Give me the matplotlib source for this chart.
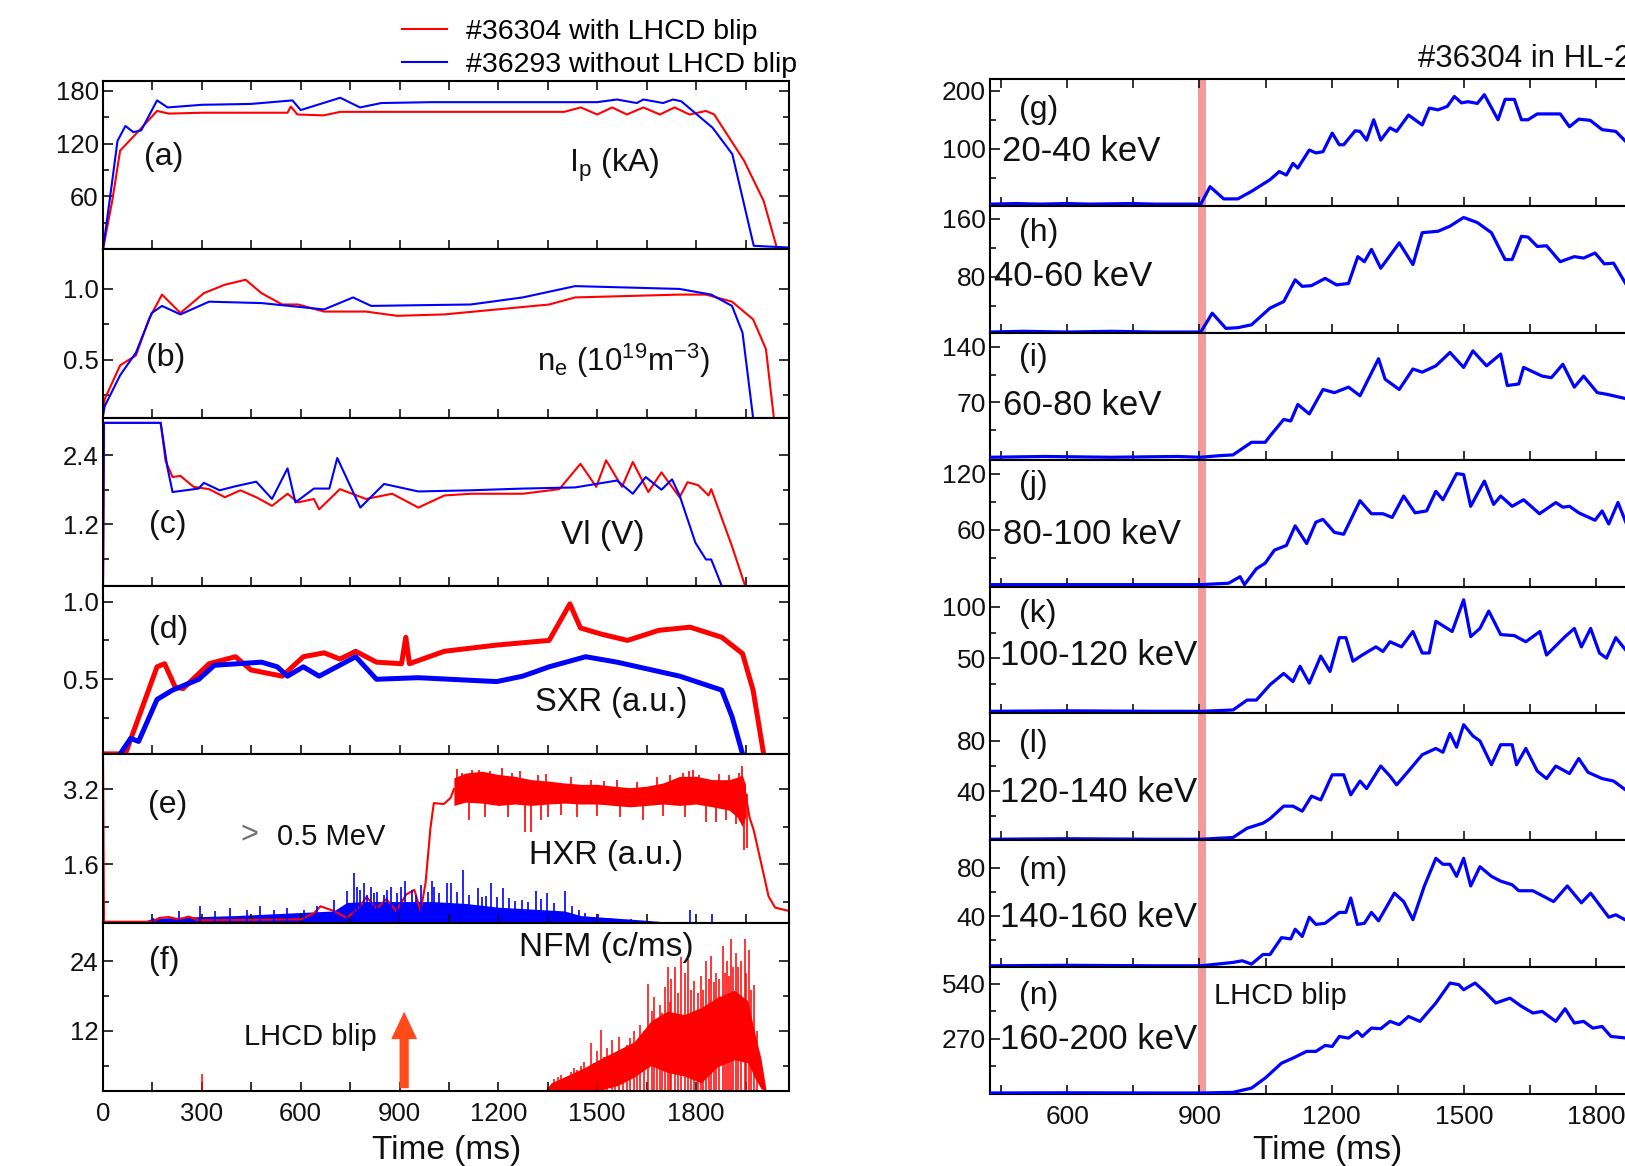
import matplotlib
matplotlib.use("Agg")
import matplotlib.pyplot as plt
from matplotlib.ticker import FixedLocator

plt.rcParams['font.family'] = ['Liberation Sans', 'DejaVu Sans']
plt.rcParams['mathtext.fontset'] = 'custom'
plt.rcParams['mathtext.rm'] = 'Liberation Sans'

RED = '#ff0000'
BLUE = '#0000ff'
INK = '#111111'
W, H = 1625, 1166

# ---------------- left column: #36304 (red) vs #36293 (blue) ----------------
ip_red_t = [0, 28, 52, 100, 164, 200, 300, 400, 560, 570, 590, 670, 720, 900, 1200, 1400,
            1450, 1500, 1545, 1590, 1640, 1690, 1735, 1780, 1830, 1855, 1945, 2005, 2045, 2085]
ip_red_v = [0, 55, 112, 131, 157, 154, 155, 155, 155, 162, 153, 152, 156, 156, 156, 156,
            161, 153, 161, 153, 161, 153, 161, 153, 157, 153, 101, 55, 2, 1]
ip_blue_t = [0, 20, 44, 68, 92, 116, 164, 196, 300, 450, 575, 600, 720, 780, 845, 1000, 1500,
             1560, 1620, 1640, 1700, 1730, 1755, 1850, 1910, 1975, 2085]
ip_blue_v = [0, 55, 123, 140, 133, 135, 169, 161, 164, 165, 169, 158, 172, 161, 166, 167, 167,
             170, 166, 170, 166, 170, 168, 138, 108, 4, 2]

ne_red_t = [0, 5, 52, 100, 140, 179, 235, 306, 370, 433, 481, 544, 592, 671, 798, 893, 1036,
            1195, 1354, 1433, 1592, 1750, 1830, 1909, 1973, 2012, 2036]
ne_red_v = [0.12, 0.22, 0.46, 0.53, 0.79, 0.96, 0.83, 0.97, 1.03, 1.065, 0.97, 0.89, 0.89, 0.84,
            0.84, 0.81, 0.82, 0.855, 0.89, 0.94, 0.95, 0.96, 0.96, 0.91, 0.785, 0.575, 0.09]
ne_blue_t = [0, 5, 52, 100, 148, 179, 235, 322, 481, 671, 759, 814, 957, 1116, 1274, 1433,
             1592, 1750, 1846, 1909, 1941, 1973]
ne_blue_v = [0.1, 0.17, 0.39, 0.55, 0.83, 0.88, 0.82, 0.91, 0.9, 0.855, 0.94, 0.88, 0.885,
             0.89, 0.94, 1.02, 1.01, 1.0, 0.96, 0.88, 0.69, 0.09]

vl_red_t = [0, 3, 175, 190, 211, 235, 275, 322, 370, 417, 465, 513, 560, 592, 640, 656, 719,
            798, 878, 957, 1036, 1116, 1274, 1385, 1449, 1497, 1527, 1575, 1608, 1655, 1695,
            1750, 1774, 1806, 1838, 1846, 1909, 1949]
vl_red_v = [0.13, 2.96, 2.96, 2.3, 2.02, 2.04, 1.85, 1.81, 1.67, 1.79, 1.67, 1.52, 1.73, 1.58,
            1.64, 1.46, 1.81, 1.64, 1.73, 1.49, 1.7, 1.73, 1.73, 1.81, 2.25, 1.85, 2.31, 1.85,
            2.28, 1.76, 2.1, 1.67, 1.93, 1.88, 1.7, 1.81, 0.82, 0.13]
vl_blue_t = [0, 3, 175, 195, 211, 290, 306, 354, 402, 465, 513, 560, 584, 640, 687, 711, 781,
             853, 957, 1116, 1274, 1433, 1497, 1560, 1608, 1647, 1695, 1727, 1750, 1798, 1830,
             1846, 1878]
vl_blue_v = [0.13, 2.96, 2.96, 2.2, 1.76, 1.82, 1.92, 1.79, 1.86, 1.94, 1.64, 2.17, 1.58, 1.82,
             1.82, 2.35, 1.49, 1.9, 1.77, 1.79, 1.82, 1.84, 1.9, 1.96, 1.73, 2.02, 1.8, 1.98,
             1.7, 0.88, 0.59, 0.59, 0.13]

sxr_red_t = [5, 68, 164, 187, 219, 243, 322, 402, 449, 544, 608, 671, 719, 767, 830, 906, 919,
             930, 1036, 1195, 1354, 1417, 1449, 1513, 1592, 1687, 1782, 1878, 1941, 1973, 2005]
sxr_red_v = [0.02, 0.02, 0.58, 0.6, 0.45, 0.44, 0.6, 0.645, 0.56, 0.52, 0.645, 0.67, 0.63,
             0.68, 0.61, 0.6, 0.77, 0.6, 0.68, 0.72, 0.75, 0.985, 0.83, 0.79, 0.75, 0.815,
             0.835, 0.77, 0.665, 0.43, 0.02]
sxr_blue_t = [52, 84, 108, 164, 211, 291, 338, 481, 529, 560, 608, 656, 767, 830, 957, 1195,
              1274, 1354, 1465, 1560, 1750, 1878, 1909, 1941]
sxr_blue_v = [0.02, 0.12, 0.1, 0.37, 0.43, 0.5, 0.59, 0.61, 0.58, 0.52, 0.58, 0.52, 0.645, 0.5,
              0.51, 0.485, 0.52, 0.58, 0.645, 0.61, 0.52, 0.43, 0.26, 0.02]

# HXR (> 0.5 MeV): red trace before/after the plateau, plateau band and its spikes
hxr_red_t = [0, 3, 150, 170, 200, 230, 260, 290, 600, 640, 660, 700, 740, 780, 800, 830, 860,
             890, 920, 945, 964, 979, 994, 1004, 1034, 1055, 1065]
hxr_red_v = [3.9, 0.37, 0.37, 0.45, 0.47, 0.42, 0.48, 0.4, 0.42, 0.55, 0.7, 0.6, 0.45, 0.7,
             0.9, 0.65, 0.85, 0.6, 0.95, 1.05, 0.6, 1.2, 2.38, 2.9, 2.88, 3.01, 3.2]
hxr_tail_t = [1950, 1962, 1975, 2000, 2020, 2040, 2082]
hxr_tail_v = [3.1, 2.6, 2.32, 1.54, 0.91, 0.67, 0.6]
hxr_band_t = [1065, 1100, 1150, 1200, 1250, 1300, 1350, 1400, 1450, 1500, 1550, 1600, 1650,
              1700, 1750, 1800, 1850, 1900, 1925, 1940, 1950]
hxr_band_hi = [3.44, 3.54, 3.58, 3.51, 3.47, 3.40, 3.37, 3.33, 3.30, 3.30, 3.26, 3.23, 3.26,
               3.33, 3.47, 3.47, 3.40, 3.40, 3.45, 3.5, 3.3]
hxr_band_lo = [2.85, 2.92, 2.9, 2.85, 2.88, 2.85, 2.88, 2.9, 2.88, 2.88, 2.85, 2.82, 2.85,
               2.88, 2.85, 2.88, 2.82, 2.75, 2.6, 2.4, 2.6]
hxr_spike_t = [1075, 1090, 1110, 1120, 1140, 1160, 1175, 1210, 1230, 1240, 1265, 1280, 1300,
               1320, 1330, 1345, 1350, 1390, 1420, 1440, 1480, 1500, 1520, 1560, 1570, 1620,
               1640, 1680, 1700, 1720, 1760, 1765, 1780, 1790, 1810, 1830, 1860, 1870, 1890,
               1900, 1920, 1930, 1940, 1945, 1955]
hxr_spike_v = [3.62, 3.55, 2.53, 3.61, 3.6, 2.6, 3.58, 3.65, 2.6, 3.55, 3.58, 2.28, 2.28,
               3.5, 2.55, 3.52, 2.6, 2.65, 3.45, 2.6, 3.4, 2.62, 3.38, 3.4, 2.6, 3.35,
               2.53, 3.45, 2.62, 3.5, 3.55, 2.6, 3.58, 3.6, 3.5, 2.49, 2.5, 3.52, 2.55,
               3.5, 2.45, 3.55, 3.7, 1.9, 1.95]
hxr_blue_band_t = [120, 150, 250, 400, 550, 700, 740, 800, 900, 1000, 1100, 1200, 1300, 1400,
                   1450, 1550, 1650, 1700]
hxr_blue_band_v = [0.37, 0.44, 0.47, 0.5, 0.55, 0.6, 0.78, 0.8, 0.8, 0.8, 0.76, 0.68, 0.64,
                   0.6, 0.5, 0.45, 0.4, 0.37]
hxr_blue_spike_t = [153, 230, 295, 340, 386, 437, 477, 520, 558, 610, 650, 700, 741, 761, 771,
                    781, 791, 800, 812, 822, 832, 852, 862, 873, 893, 905, 918, 938, 950, 964,
                    985, 998, 1004, 1020, 1043, 1055, 1075, 1093, 1110, 1138, 1150, 1163, 1177,
                    1195, 1213, 1233, 1250, 1273, 1290, 1313, 1330, 1348, 1370, 1403, 1423,
                    1445, 1463, 1503, 1543, 1603, 1783, 1848]
hxr_blue_spike_v = [0.46, 0.6, 0.7, 0.6, 0.67, 0.63, 0.7, 0.62, 0.67, 0.62, 0.7, 0.84, 1.02,
                    1.4, 1.1, 1.05, 1.19, 0.95, 1.12, 0.98, 1.0, 0.95, 1.05, 1.12, 0.98, 1.1,
                    1.23, 1.05, 0.95, 1.16, 1.0, 1.23, 1.1, 0.98, 1.19, 1.19, 1.0, 1.47, 0.95,
                    1.09, 0.9, 0.91, 1.19, 0.9, 1.09, 0.88, 0.82, 0.84, 0.8, 1.02, 0.85, 0.98,
                    0.78, 1.02, 0.7, 0.62, 0.56, 0.53, 0.46, 0.42, 0.63, 0.53]

# neutron flux monitor
nfm_core_t = [1340, 1360, 1410, 1460, 1511, 1560, 1612, 1663, 1713, 1764, 1815, 1865, 1916,
              1957, 1977, 1997, 2012]
nfm_core_lo = [1.6, 1.6, 1.6, 1.6, 1.8, 2.5, 4.0, 6.0, 4.8, 4.2, 3.0, 5.8, 7.0, 6.5, 4.0, 2.0, 1.6]
nfm_core_hi = [1.6, 3.0, 4.3, 5.6, 7.2, 8.6, 10.1, 13.7, 15.4, 14.8, 16.0, 17.8, 19.0, 17.2,
               11.9, 7.2, 1.9]
nfm_spike_t = [300, 1369, 1380, 1390, 1405, 1420, 1430, 1440, 1450, 1460, 1470, 1480, 1490,
               1500, 1511, 1520, 1530, 1545, 1555, 1565, 1578, 1590, 1600, 1612, 1622, 1630,
               1642, 1653, 1665, 1673, 1682, 1690, 1698, 1705, 1714, 1720, 1725, 1735, 1745,
               1754, 1765, 1775, 1785, 1795, 1805, 1815, 1822, 1830, 1838, 1845, 1853, 1860,
               1870, 1881, 1888, 1893, 1900, 1906, 1913, 1920, 1927, 1935, 1947, 1953, 1960,
               1968, 1975, 1985]
nfm_spike_v = [4.6, 3.6, 4.0, 4.4, 3.8, 4.8, 5.6, 5.2, 6.0, 6.6, 5.4, 9.9, 6.5, 8.5, 12.2, 7.5,
               9.0, 10.4, 8.0, 11.0, 8.8, 9.5, 10.8, 11.9, 10.0, 13.0, 12.0, 20.1, 15.5, 17.8,
               14.0, 16.5, 15.0, 19.5, 23.1, 17.0, 21.0, 23.1, 18.5, 24.8, 22.0, 24.5, 19.0,
               20.7, 18.5, 21.5, 19.0, 24.0, 21.0, 25.0, 20.5, 22.0, 21.0, 26.6, 22.0, 24.0,
               21.5, 27.8, 23.0, 25.5, 23.0, 24.0, 27.8, 22.0, 26.0, 19.0, 20.0, 12.0]

# ---------------- right column: HXR energy channels of #36304 ----------------
g_t = [425, 485, 537, 600, 650, 746, 800, 851, 903, 924, 955, 987, 1018, 1060, 1081, 1097, 1112,
       1123, 1149, 1164, 1180, 1201, 1217, 1227, 1253, 1264, 1279, 1295, 1311, 1332, 1347, 1374,
       1405, 1421, 1441, 1462, 1478, 1494, 1509, 1530, 1546, 1577, 1593, 1614, 1630, 1645, 1666,
       1718, 1739, 1760, 1786, 1813, 1844, 1870]
g_v = [5, 6, 5, 6, 5, 6, 5, 5, 5, 35, 14, 14, 27, 47, 61, 55, 75, 67, 98, 93, 95, 127, 107, 107,
       131, 130, 115, 150, 115, 136, 130, 158, 141, 170, 167, 173, 190, 179, 181, 178, 193, 150,
       185, 185, 150, 150, 160, 160, 138, 151, 149, 133, 130, 110]
h_t = [425, 500, 600, 700, 800, 903, 929, 960, 987, 1018, 1060, 1091, 1117, 1133, 1154, 1185,
       1211, 1238, 1259, 1274, 1290, 1311, 1353, 1384, 1405, 1441, 1468, 1499, 1530, 1562, 1593,
       1609, 1630, 1645, 1666, 1687, 1718, 1750, 1771, 1797, 1818, 1839, 1870]
h_v = [4, 5, 4, 5, 4, 4, 30, 9, 10, 14, 37, 46, 76, 67, 68, 78, 69, 71, 108, 101, 118, 92, 127,
       97, 141, 143, 150, 162, 155, 141, 104, 104, 136, 135, 122, 123, 101, 108, 106, 113, 98,
       99, 67]
i_t = [425, 550, 700, 850, 903, 945, 976, 1018, 1049, 1060, 1091, 1107, 1123, 1149, 1180, 1206,
       1238, 1264, 1306, 1321, 1353, 1384, 1405, 1436, 1468, 1499, 1520, 1551, 1583, 1598, 1624,
       1635, 1677, 1698, 1724, 1750, 1771, 1802, 1823, 1870]
i_v = [0, 1, 0, 1, 0, 2, 3, 19, 19, 27, 48, 46, 67, 55, 86, 82, 89, 78, 125, 99, 86, 112, 108,
       116, 133, 114, 135, 116, 131, 91, 93, 114, 103, 101, 118, 89, 103, 82, 80, 74]
j_t = [425, 600, 800, 903, 966, 992, 1002, 1029, 1049, 1070, 1097, 1117, 1143, 1164, 1180, 1206,
       1227, 1264, 1290, 1316, 1337, 1363, 1389, 1415, 1436, 1452, 1483, 1499, 1515, 1546, 1567,
       1583, 1609, 1635, 1671, 1708, 1724, 1739, 1760, 1797, 1813, 1828, 1849, 1870]
j_v = [1, 1, 1, 1, 2.5, 9.5, 1, 18, 24, 38, 43, 64, 45, 68, 71, 57, 55, 91, 77, 77, 73, 96, 78,
       80, 101, 92, 120, 119, 85, 112, 87, 96, 85, 92, 77, 89, 84, 85, 78, 70, 80, 66, 89, 64]
k_t = [425, 600, 800, 903, 976, 1008, 1029, 1060, 1091, 1112, 1128, 1149, 1175, 1196, 1217, 1232,
       1248, 1269, 1300, 1316, 1332, 1358, 1384, 1405, 1421, 1436, 1473, 1499, 1515, 1536, 1556,
       1583, 1614, 1640, 1672, 1687, 1729, 1750, 1766, 1787, 1807, 1823, 1844, 1870]
k_v = [-2, -1.5, -2, -2, -0.7, 9, 9, 24, 35, 27, 42, 25.5, 52, 37, 70, 70, 47, 53, 61, 56.5, 66,
       61, 76, 55, 55, 86, 76, 107, 71, 79, 96, 73, 72, 66, 76, 53, 71, 79, 61, 79, 55, 50, 70, 56]
l_t = [425, 600, 800, 903, 976, 1008, 1044, 1060, 1091, 1112, 1133, 1154, 1175, 1201, 1227, 1243,
       1264, 1279, 1311, 1332, 1347, 1374, 1405, 1436, 1452, 1468, 1483, 1499, 1520, 1536, 1562,
       1583, 1609, 1619, 1640, 1666, 1687, 1708, 1739, 1760, 1781, 1813, 1839, 1870]
l_v = [1.6, 2, 1.6, 1.6, 3, 10.4, 14.4, 18, 28, 28, 24, 36, 33, 53, 53, 37, 48, 42, 60, 52, 45,
       56, 69, 74, 71, 86, 75, 93, 84, 80, 61, 77, 77, 61, 74, 56, 50, 60, 54, 66, 55, 50, 48, 40]
m_t = [425, 600, 800, 903, 976, 997, 1018, 1044, 1060, 1086, 1107, 1117, 1133, 1149, 1164, 1185,
       1217, 1232, 1243, 1258, 1274, 1290, 1306, 1342, 1363, 1384, 1410, 1436, 1452, 1468, 1483,
       1499, 1515, 1536, 1562, 1583, 1609, 1624, 1656, 1703, 1734, 1766, 1787, 1828, 1844, 1870]
m_v = [-1.4, -1, -1.4, -1.4, 1.4, 2.8, 0, 8, 8, 22, 21, 29, 23, 39, 33, 34, 43, 43, 55, 33, 34,
       43, 36, 59, 52, 37, 65, 88, 83, 83, 73, 88, 65, 81, 73, 69, 66, 61, 61, 52, 65, 51, 59,
       39, 41, 36]
n_t = [425, 600, 800, 903, 976, 1018, 1049, 1086, 1112, 1143, 1164, 1185, 1201, 1217, 1238, 1258,
       1269, 1290, 1311, 1332, 1353, 1374, 1400, 1436, 1468, 1488, 1499, 1525, 1546, 1572, 1604,
       1630, 1656, 1677, 1708, 1729, 1750, 1771, 1792, 1813, 1833, 1870]
n_v = [5, 6, 5, 5, 8, 29, 78, 151, 176, 209, 209, 238, 233, 282, 274, 307, 282, 323, 320, 356,
       340, 380, 356, 446, 544, 536, 511, 544, 503, 446, 470, 430, 397, 405, 356, 418, 348, 356,
       323, 331, 282, 274]

channel_labels = ['20-40 keV', '40-60 keV', '60-80 keV', '80-100 keV', '100-120 keV',
                  '120-140 keV', '140-160 keV', '160-200 keV']
channel_ylims = [(2, 220), (3, 178), (-3, 158), (-1, 135), (-4, 120), (0.8, 102), (-2.5, 103),
                 (0, 622)]
channel_ticks = [[100, 200], [80, 160], [70, 140], [60, 120], [50, 100], [40, 80], [40, 80],
                 [270, 540]]
blip_start, blip_end = 897, 915


def box(left, top, right, bottom):
    # pixel box -> figure fraction
    return [left / W, 1 - bottom / H, (right - left) / W, (bottom - top) / H]


def style(ax, xmaj, xmin, ymaj, ymin, top=False, size=18.5):
    ax.xaxis.set_major_locator(FixedLocator(xmaj))
    ax.xaxis.set_minor_locator(FixedLocator(xmin))
    ax.yaxis.set_major_locator(FixedLocator(ymaj))
    ax.yaxis.set_minor_locator(FixedLocator(ymin))
    ax.tick_params(which='both', direction='in', top=top, right=True, width=1.2,
                   labelsize=size, colors=INK)
    ax.tick_params(axis='y', which='major', length=7, pad=3)
    ax.tick_params(axis='y', which='minor', length=4.5)
    ax.tick_params(axis='x', which='both', length=6.5, pad=8)
    for sp in ax.spines.values():
        sp.set_linewidth(1.5)


def put(ax, t, frac, s, size=23.5, **kw):
    ax.text(t, frac, s, transform=ax.get_xaxis_transform(), va='center', ha='left',
            fontsize=size, color=INK, **kw)


fig = plt.figure(figsize=(W / 100, H / 100), dpi=100)

# ---- left column ----
left_top, left_bot = 81, 1091
lh = (left_bot - left_top) / 6
lax = [fig.add_axes(box(103, left_top + k * lh, 789, left_top + (k + 1) * lh)) for k in range(6)]
xmaj_l = [0, 300, 600, 900, 1200, 1500, 1800]
xmin_l = [150, 450, 750, 1050, 1350, 1650, 1950]
left_lims = [(0, 191), (0.09, 1.28), (0.13, 3.05), (0.017, 1.1), (0.35, 3.94), (1.6, 30.7)]
left_maj = [[60, 120, 180], [0.5, 1.0], [1.2, 2.4], [0.5, 1.0], [1.6, 3.2], [12, 24]]
left_min = [[30, 90, 150], [0.25, 0.75], [0.6, 1.8], [0.25, 0.75], [0.8, 2.4], [6, 18]]
for k, ax in enumerate(lax):
    ax.set_xlim(0, 2082)
    ax.set_ylim(*left_lims[k])
    style(ax, xmaj_l, xmin_l, left_maj[k], left_min[k], top=(k == 0))
    if k < 5:
        ax.tick_params(labelbottom=False)
lax[1].set_yticklabels(['0.5', '1.0'])
lax[3].set_yticklabels(['0.5', '1.0'])

a, b, c, d, e, f = lax
l_red, = a.plot(ip_red_t, ip_red_v, color=RED, lw=1.5, label='#36304 with LHCD blip')
l_blue, = a.plot(ip_blue_t, ip_blue_v, color=BLUE, lw=1.5, label='#36293 without LHCD blip')
b.plot(ne_red_t, ne_red_v, color=RED, lw=1.5)
b.plot(ne_blue_t, ne_blue_v, color=BLUE, lw=1.5)
c.plot(vl_red_t, vl_red_v, color=RED, lw=1.5)
c.plot(vl_blue_t, vl_blue_v, color=BLUE, lw=1.5)
d.plot(sxr_red_t, sxr_red_v, color=RED, lw=3.6)
d.plot(sxr_blue_t, sxr_blue_v, color=BLUE, lw=3.6)

e.plot(hxr_red_t, hxr_red_v, color=RED, lw=1.5)
e.fill_between(hxr_band_t, hxr_band_lo, hxr_band_hi, color=RED, lw=0)
e.vlines(hxr_spike_t, 3.1, hxr_spike_v, color=RED, lw=1.2)
e.plot(hxr_tail_t, hxr_tail_v, color=RED, lw=1.5)
e.fill_between(hxr_blue_band_t, 0.36, hxr_blue_band_v, color=BLUE, lw=0)
e.vlines(hxr_blue_spike_t, 0.36, hxr_blue_spike_v, color=BLUE, lw=1.2)

f.fill_between(nfm_core_t, nfm_core_lo, nfm_core_hi, color=RED, lw=0)
f.vlines(nfm_spike_t, 1.6, nfm_spike_v, color=RED, lw=1.1)
f.annotate('', xy=(914, 15.8), xytext=(914, 1.6),
           arrowprops=dict(arrowstyle='simple,head_length=0.9,head_width=0.85,tail_width=0.3',
                           color='#ff4a1a', lw=0, mutation_scale=22))

put(a, 125, 0.55, '(a)', 23)
put(b, 132, 0.355, '(b)', 23)
put(c, 140, 0.36, '(c)', 23)
put(d, 140, 0.74, '(d)', 23)
put(e, 138, 0.70, '(e)', 23)
put(f, 140, 0.775, '(f)', 23)
put(a, 1414, 0.50, r'I$_\mathregular{p}$ (kA)', 23)
put(b, 1318, 0.34, r'n$_\mathregular{e}$ (10$^\mathregular{19}$m$^\mathregular{-3}$)', 22.5)
put(c, 1390, 0.30, 'Vl (V)', 24)
put(d, 1310, 0.31, 'SXR (a.u.)')
put(e, 1293, 0.40, 'HXR (a.u.)')
put(e, 416, 0.52, '>', 22, alpha=0.6)
put(e, 528, 0.51, '0.5 MeV', 21)
put(f, 1262, 0.85, 'NFM (c/ms)', 24)
put(f, 427, 0.32, 'LHCD blip', 21)

fig.legend(handles=[l_red, l_blue], loc='upper right', bbox_to_anchor=(797 / W, 1 - 19 / H),
           frameon=False, fontsize=20.5, handlelength=1.6, handletextpad=0.65,
           labelspacing=0.25, borderpad=0, borderaxespad=0)
fig.text(447 / W, 1 - 1150 / H, 'Time (ms)', ha='center', va='center', fontsize=24, color=INK)

# ---- right column ----
right_top, right_bot = 79, 1094
rh = (right_bot - right_top) / 8
r_left, r_right = 990, 990 + (2100 - 425) * 0.441
rax = [fig.add_axes(box(r_left, right_top + k * rh, r_right, right_top + (k + 1) * rh))
       for k in range(8)]
series_t = [g_t, h_t, i_t, j_t, k_t, l_t, m_t, n_t]
series_v = [g_v, h_v, i_v, j_v, k_v, l_v, m_v, n_v]
letters = ['(g)', '(h)', '(i)', '(j)', '(k)', '(l)', '(m)', '(n)']
letter_y = [0.756, 0.79, 0.80, 0.80, 0.78, 0.756, 0.76, 0.77]
label_t = [452, 433, 455, 455, 448, 448, 448, 448]
label_y = [0.43, 0.44, 0.43, 0.41, 0.46, 0.38, 0.39, 0.43]
for k, ax in enumerate(rax):
    ax.set_xlim(425, 2100)
    ax.set_ylim(*channel_ylims[k])
    lo, hi = channel_ticks[k]
    style(ax, [600, 900, 1200, 1500, 1800, 2100], [450, 750, 1050, 1350, 1650, 1950],
          channel_ticks[k], [lo / 2, (lo + hi) / 2], top=(k == 0), size=19)
    if k < 7:
        ax.tick_params(labelbottom=False)
    ax.axvspan(blip_start, blip_end, color='#f39a9a', lw=0, zorder=1)
    ax.plot(series_t[k], series_v[k], color=BLUE, lw=2.3, zorder=3)
    put(ax, 490, letter_y[k], letters[k], 23)
    put(ax, label_t[k], label_y[k], channel_labels[k], 25)
put(rax[7], 933, 0.77, 'LHCD blip', 21)

fig.text(1418 / W, 1 - 59 / H, '#36304 in HL-2A', ha='left', va='center', fontsize=22.5,
         color=INK)
fig.text(1328 / W, 1 - 1150 / H, 'Time (ms)', ha='center', va='center', fontsize=24, color=INK)

fig.savefig('out.png', dpi=100)
